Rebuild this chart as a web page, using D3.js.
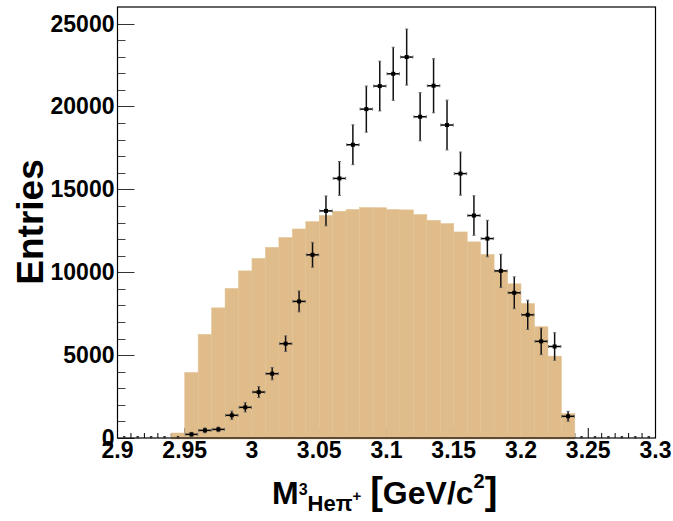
<!DOCTYPE html>
<html>
<head>
<meta charset="utf-8">
<script src="https://cdn.jsdelivr.net/npm/d3@7"></script>
<style>
  html, body { margin: 0; padding: 0; background: #fff; }
  svg { display: block; }
  text { font-family: "Liberation Sans", Arial, Helvetica, sans-serif; font-weight: bold; fill: #000; }
</style>
</head>
<body>
<svg id="chart" width="673" height="521"></svg>
<script>
// Bin lower edges of the invariant-mass histogram [GeV/c^2], 0.01 wide
const binLow = [
  2.90, 2.91, 2.92, 2.93, 2.94, 2.95, 2.96, 2.97, 2.98, 2.99,
  3.00, 3.01, 3.02, 3.03, 3.04, 3.05, 3.06, 3.07, 3.08, 3.09,
  3.10, 3.11, 3.12, 3.13, 3.14, 3.15, 3.16, 3.17, 3.18, 3.19,
  3.20, 3.21, 3.22, 3.23, 3.24, 3.25, 3.26, 3.27, 3.28, 3.29
];
const binWidth = 0.01;

// Filled histogram (phase-space style distribution)
const histCounts = [
  0, 0, 0, 0, 300, 3950, 6250, 7850, 9020, 10080,
  10830, 11500, 12090, 12610, 13050, 13420, 13680, 13780, 13900, 13890,
  13780, 13760, 13480, 13130, 12930, 12430, 11830, 11070, 10120, 9300,
  8110, 6710, 4940, 1470, 0, 0, 0, 0, 0, 0
];

// Measured points with their uncertainties
const dataCounts = [
  0, 0, 0, 0, 0, 220, 460, 520, 1370, 1850,
  2770, 3880, 5690, 8240, 11050, 13700, 15660, 17690, 19840, 21230,
  21970, 22980, 19380, 21250, 18880, 15950, 13420, 12030, 10080, 8760,
  7430, 5830, 5520, 1310, 0, 0, 0, 0, 0, 0
];
const dataErrors = [
  0, 0, 0, 0, 0, 120, 150, 140, 250, 280,
  330, 370, 470, 630, 750, 900, 1020, 1200, 1390, 1500,
  1600, 1690, 1450, 1630, 1500, 1300, 1190, 1100, 1000, 960,
  880, 800, 830, 300, 0, 0, 0, 0, 0, 0
];

// Axis tick labels
const xTickValues = [2.9, 2.95, 3.0, 3.05, 3.1, 3.15, 3.2, 3.25, 3.3];
const xTickLabels = ["2.9", "2.95", "3", "3.05", "3.1", "3.15", "3.2", "3.25", "3.3"];
const yTickValues = [0, 5000, 10000, 15000, 20000, 25000];
const yTickLabels = ["0", "5000", "10000", "15000", "20000", "25000"];

const frame = { left: 117.5, right: 655.5, top: 7, bottom: 438 };

const x = d3.scaleLinear().domain([2.9, 3.3]).range([frame.left, frame.right]);
const y = d3.scaleLinear().domain([0, 26000]).range([frame.bottom, frame.top]);

const svg = d3.select("#chart");

// Minor/major tick marks
const xMinor = d3.range(0, 41).map(i => 2.9 + i * 0.01);
const yMinor = d3.range(0, 26).map(i => i * 1000);

const ticks = svg.append("g").attr("stroke", "#000").attr("stroke-width", 1);
ticks.selectAll("line.yt").data(yMinor).join("line")
  .attr("x1", frame.left).attr("x2", d => frame.left + (d % 5000 === 0 ? 17 : 8))
  .attr("y1", d => Math.round(y(d)) + 0.5).attr("y2", d => Math.round(y(d)) + 0.5)
  .attr("stroke", d => d % 5000 === 0 ? "#333" : "#444");
ticks.selectAll("line.xt").data(xMinor).join("line")
  .attr("x1", d => x(d)).attr("x2", d => x(d))
  .attr("y1", frame.bottom)
  .attr("y2", (d, i) => frame.bottom - (i % 5 === 0 ? 10 : 5));

// Histogram bars
svg.append("g").selectAll("rect").data(binLow.map((b, i) => ({ b, v: histCounts[i] })).filter(d => d.v > 0))
  .join("rect")
  .attr("x", d => x(d.b))
  .attr("width", d => x(d.b + binWidth) - x(d.b))
  .attr("y", d => y(d.v))
  .attr("height", d => y(0) - y(d.v) + 1)
  .attr("fill", "#dfbc8a")
  .attr("stroke", "#e3c393")
  .attr("stroke-width", 0.6);

// Frame
svg.append("rect")
  .attr("x", frame.left).attr("y", frame.top)
  .attr("width", frame.right - frame.left).attr("height", frame.bottom - frame.top)
  .attr("fill", "none").attr("stroke", "#000").attr("stroke-width", 1.2);

// Data points with error bars
const pts = binLow.map((b, i) => ({ c: b + binWidth / 2, b, v: dataCounts[i], e: dataErrors[i] }));
const pg = svg.append("g");
pts.forEach(p => {
  const cx = x(p.c), cy = y(p.v);
  if (p.v > 0) {
    pg.append("line").attr("x1", x(p.b) + 0.5).attr("x2", x(p.b + binWidth) - 0.5)
      .attr("y1", cy).attr("y2", cy).attr("stroke", "#000").attr("stroke-width", 1.5);
    pg.append("line").attr("x1", cx).attr("x2", cx)
      .attr("y1", y(p.v + p.e)).attr("y2", y(p.v - p.e)).attr("stroke", "#111").attr("stroke-width", 1.5);
    // end caps
    [p.v + p.e, p.v - p.e].forEach(v => pg.append("line")
      .attr("x1", cx - 1.5).attr("x2", cx + 1.5).attr("y1", y(v)).attr("y2", y(v))
      .attr("stroke", "#666").attr("stroke-width", 1));
    [x(p.b) + 0.5, x(p.b + binWidth) - 0.5].forEach(xx => pg.append("line")
      .attr("x1", xx).attr("x2", xx).attr("y1", cy - 1.5).attr("y2", cy + 1.5)
      .attr("stroke", "#666").attr("stroke-width", 1));
    pg.append("rect").attr("x", cx - 2).attr("y", cy - 2).attr("width", 4).attr("height", 4).attr("fill", "#000");
  } else {
    pg.append("rect").attr("x", cx - 1.2).attr("y", cy - 2).attr("width", 2.4).attr("height", 2.4).attr("fill", "#333");
  }
});

// Tick labels
svg.append("g").selectAll("text").data(yTickValues).join("text")
  .attr("x", frame.left - 3).attr("y", d => y(d) + 8)
  .attr("text-anchor", "end").attr("font-size", 23)
  .text((d, i) => yTickLabels[i]);

svg.append("g").selectAll("text").data(xTickValues).join("text")
  .attr("x", d => x(d)).attr("y", frame.bottom + 20)
  .attr("text-anchor", "middle").attr("font-size", 23)
  .text((d, i) => xTickLabels[i]);

// Axis titles
svg.append("text")
  .attr("transform", "translate(43,222) rotate(-90)")
  .attr("text-anchor", "middle").attr("font-size", 37)
  .text("Entries");

const xt = svg.append("text").attr("x", 272).attr("y", 504).attr("font-size", 32);
xt.append("tspan").text("M");
xt.append("tspan").attr("font-size", 16).attr("dy", -9).text("3");
xt.append("tspan").attr("font-size", 22).attr("dy", 16).text("Heπ");
xt.append("tspan").attr("font-size", 15).attr("dy", -10).text("+");
xt.append("tspan").attr("font-size", 32).attr("dy", 3).text(" ");
xt.append("tspan").attr("font-size", 38).text("[");
xt.append("tspan").attr("font-size", 32).text("GeV/c");
xt.append("tspan").attr("font-size", 20).attr("dy", -16).text("2");
xt.append("tspan").attr("font-size", 38).attr("dy", 16).text("]");
</script>
</body>
</html>
